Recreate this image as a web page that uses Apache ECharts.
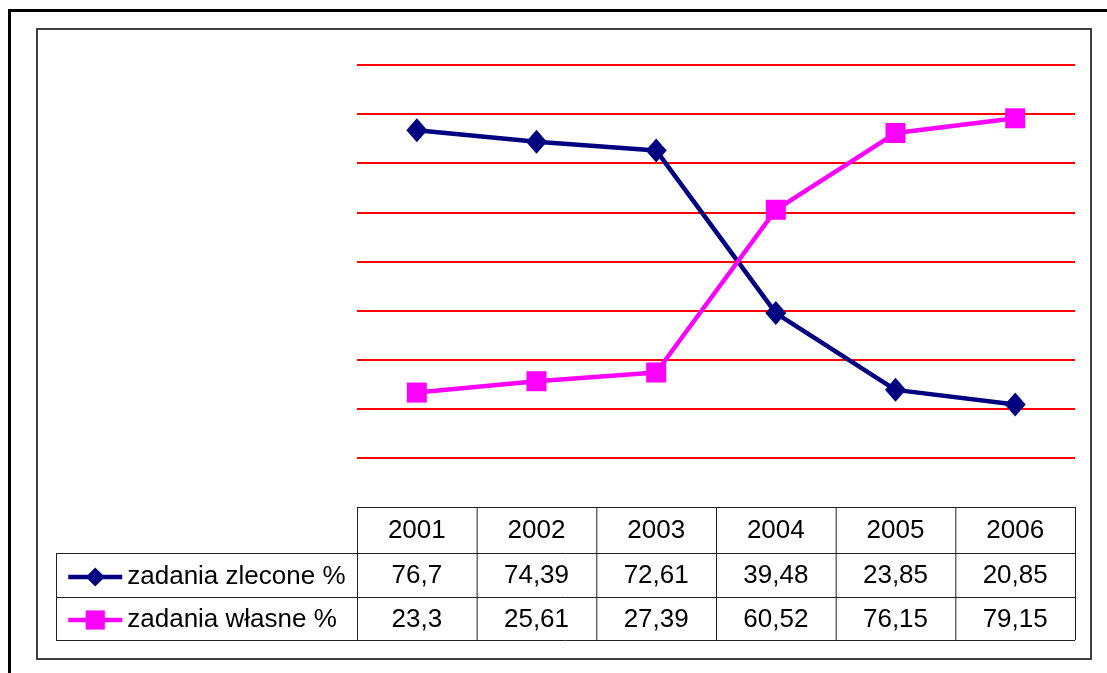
<!DOCTYPE html>
<html>
<head>
<meta charset="utf-8">
<script src="https://cdn.jsdelivr.net/npm/echarts@6/dist/echarts.min.js"></script>
<style>
  html, body { margin: 0; padding: 0; background: #fff; }
  #chart { width: 1107px; height: 673px; }
</style>
</head>
<body>
<div id="chart"></div>
<script>
// data
const years = ['2001', '2002', '2003', '2004', '2005', '2006']
const zlecone = [76.7, 74.39, 72.61, 39.48, 23.85, 20.85]
const wlasne = [23.3, 25.61, 27.39, 60.52, 76.15, 79.15]
const seriesNames = ['zadania zlecone %', 'zadania własne %']
const yMax = 90
const yStep = 10

const font = '"Liberation Sans", Arial, sans-serif'
const navy = '#000080'
const magenta = '#ff00ff'

const chart = echarts.init(document.getElementById('chart'))

const GRID = { left: 357, right: 32, top: 65, bottom: 166 }
const rowEdges = [507, 553, 597, 640] // table rows: header, series 1, series 2
const tableLeft = 56

const fmt = (v) => String(v).replace('.', ',')

chart.setOption({
  backgroundColor: '#fff',
  animation: false,
  grid: GRID,
  legend: {
    orient: 'vertical',
    left: 61,
    top: 559,
    itemWidth: 54,
    itemHeight: 24,
    itemGap: 17,
    textStyle: { fontFamily: font, fontSize: 26, color: '#000' },
    data: [
      { name: seriesNames[0], itemStyle: { color: navy }, lineStyle: { color: navy, width: 4.5 } },
      { name: seriesNames[1], itemStyle: { color: magenta }, lineStyle: { color: magenta, width: 4.5 } }
    ]
  },
  xAxis: {
    type: 'category',
    data: years,
    boundaryGap: true,
    axisLine: { show: false },
    axisTick: { show: false },
    axisLabel: { show: false }
  },
  yAxis: {
    type: 'value',
    min: 0,
    max: yMax,
    interval: yStep,
    axisLine: { show: false },
    axisTick: { show: false },
    axisLabel: { show: false },
    splitLine: { lineStyle: { color: '#ff0000', width: 1.8 } }
  },
  series: [
    {
      name: seriesNames[0],
      type: 'line',
      data: zlecone,
      symbol: 'diamond',
      symbolSize: [21, 24],
      itemStyle: { color: navy },
      lineStyle: { color: navy, width: 4.5 }
    },
    {
      name: seriesNames[1],
      type: 'line',
      data: wlasne,
      symbol: 'rect',
      symbolSize: 20,
      itemStyle: { color: magenta },
      lineStyle: { color: magenta, width: 4.5 }
    }
  ]
})

// data table under the plot, aligned with the category axis
const buildTable = () => {
  const els = []
  const half = chart.convertToPixel({ xAxisIndex: 0 }, years[1]) - chart.convertToPixel({ xAxisIndex: 0 }, years[0])
  const centers = years.map((y) => chart.convertToPixel({ xAxisIndex: 0 }, y))
  const left = centers[0] - half / 2
  const right = centers[centers.length - 1] + half / 2
  const lineStyle = { stroke: '#222', lineWidth: 1 }
  const hLine = (x1, x2, y) => ({ type: 'line', z: 100, shape: { x1, y1: y + 0.5, x2, y2: y + 0.5 }, style: lineStyle, silent: true })
  const vLine = (x, y1, y2) => ({ type: 'line', z: 100, shape: { x1: x + 0.5, y1, x2: x + 0.5, y2 }, style: lineStyle, silent: true })

  // white strip hides the red 0-line under the table top border
  els.push({ type: 'rect', z: 99, shape: { x: left - 1, y: rowEdges[0] - 1.5, width: right - left + 2, height: 3 }, style: { fill: '#fff' }, silent: true })
  els.push(hLine(left, right, rowEdges[0]))
  els.push(hLine(tableLeft, right, rowEdges[1]))
  els.push(hLine(tableLeft, right, rowEdges[2]))
  els.push(hLine(tableLeft, right, rowEdges[3]))
  els.push(vLine(tableLeft, rowEdges[1], rowEdges[3]))
  for (let i = 0; i <= years.length; i++) {
    els.push(vLine(left + i * half, rowEdges[0], rowEdges[3]))
  }
  const rows = [years, zlecone.map(fmt), wlasne.map(fmt)]
  rows.forEach((row, r) => {
    const cy = (rowEdges[r] + rowEdges[r + 1]) / 2 + 1
    row.forEach((txt, i) => {
      els.push({
        type: 'text',
        z: 100,
        x: centers[i],
        y: cy,
        silent: true,
        style: { text: txt, fill: '#000', font: '26px ' + font, align: 'center', verticalAlign: 'middle' }
      })
    })
  })

  // frames
  els.push({ type: 'rect', z: 100, shape: { x: 37, y: 29, width: 1054, height: 630 }, style: { fill: null, stroke: '#404040', lineWidth: 2 }, silent: true })
  els.push({ type: 'rect', z: 100, shape: { x: 9.5, y: 10.5, width: 1200, height: 800 }, style: { fill: null, stroke: '#000', lineWidth: 3 }, silent: true })

  chart.setOption({ graphic: { elements: els } })
}

buildTable()
</script>
</body>
</html>
